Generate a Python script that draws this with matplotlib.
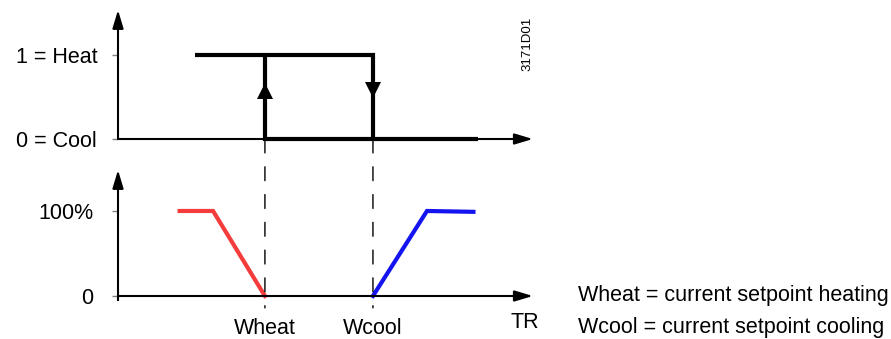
import matplotlib.pyplot as plt
from matplotlib.patches import ConnectionPatch

plt.rcParams['font.family'] = ['Liberation Sans', 'DejaVu Sans']
plt.rcParams['font.size'] = 15.5

# room temperature axis (arbitrary TR units)
tr_end = 38.4
wheat = 13.6
wcool = 23.6

# heat / cool changeover (hysteresis)
heat_x = [7.1, wcool, wcool]
heat_y = [1, 1, 0]
cool_x = [wheat, wheat, 33.3]
cool_y = [1, 0, 0]

# valve positions in %
valve_heat_x = [5.7, 8.8, wheat]
valve_heat_y = [100, 100, 0]
valve_cool_x = [wcool, 28.6, 32.9]
valve_cool_y = [0, 100, 99]

W, H = 891, 339
fig = plt.figure(figsize=(W / 100, H / 100), dpi=100)

ax1 = fig.add_axes([118 / W, (H - 139) / H, 417 / W, 129 / H])
ax2 = fig.add_axes([118 / W, (H - 296) / H, 417 / W, 126 / H])
ax1.set_xlim(0, 38.6)
ax1.set_ylim(0, 1.536)
ax2.set_xlim(0, 38.6)
ax2.set_ylim(0, 148.2)

for ax, ytop in [(ax1, 1.536), (ax2, 148.2)]:
    for s in ax.spines.values():
        s.set_visible(False)
    arrow = dict(arrowstyle='-|>,head_length=1.1,head_width=0.33', mutation_scale=10,
                 lw=1.5, color='black', shrinkA=0, shrinkB=0)
    ax.annotate('', xy=(0, ytop), xytext=(0, 0), arrowprops=arrow, annotation_clip=False)
    ax.annotate('', xy=(tr_end, 0), xytext=(0, 0), arrowprops=arrow, annotation_clip=False)
    ax.tick_params(axis='y', length=4, width=1, color='#808080', pad=11)

ax1.set_xticks([])
ax1.set_yticks([0, 1], ['0 = Cool', '1 = Heat'])
ax1.plot(heat_x, heat_y, color='black', lw=3, solid_joinstyle='miter',
         solid_capstyle='butt', clip_on=False)
ax1.plot(cool_x, cool_y, color='black', lw=3, solid_joinstyle='miter',
         solid_capstyle='butt', clip_on=False)
ax1.plot([wheat], [0.57], marker='^', ms=11, color='black', mew=0, clip_on=False)
ax1.plot([wcool], [0.58], marker='v', ms=11, color='black', mew=0, clip_on=False)

ax2.set_xticks([wheat, wcool], ['Wheat', 'Wcool'])
ax2.tick_params(axis='x', length=0, pad=16)
ax2.set_yticks([0, 100], ['0', '100%'])
ax2.tick_params(axis='y', pad=14)
ax2.plot(valve_heat_x, valve_heat_y, color='#f53c3c', lw=3, solid_joinstyle='miter',
         clip_on=False)
ax2.plot(valve_cool_x, valve_cool_y, color='#1414f0', lw=3, solid_joinstyle='miter',
         clip_on=False)
ax2.plot([0, 0], [0, -5], color='black', lw=1.5, clip_on=False)
ax2.text(1.01, -0.13, 'TR', transform=ax2.transAxes, ha='right', va='top')

# dashed guides from the changeover points down to the valve axis
for x in [wheat, wcool]:
    con = ConnectionPatch(xyA=(x, 0), coordsA=ax1.transData, xyB=(x, -14),
                          coordsB=ax2.transData, color='black', lw=1.0,
                          linestyle=(0, (10, 10)))
    fig.add_artist(con)

fig.text(527 / W, 1 - 44 / H, '3171D01', rotation=90, ha='center', va='center',
         fontsize=9.5)
fig.text(578 / W, 1 - 296 / H, 'Wheat = current setpoint heating', va='center')
fig.text(578 / W, 1 - 327 / H, 'Wcool = current setpoint cooling', va='center')

fig.savefig('out.png', dpi=100)
